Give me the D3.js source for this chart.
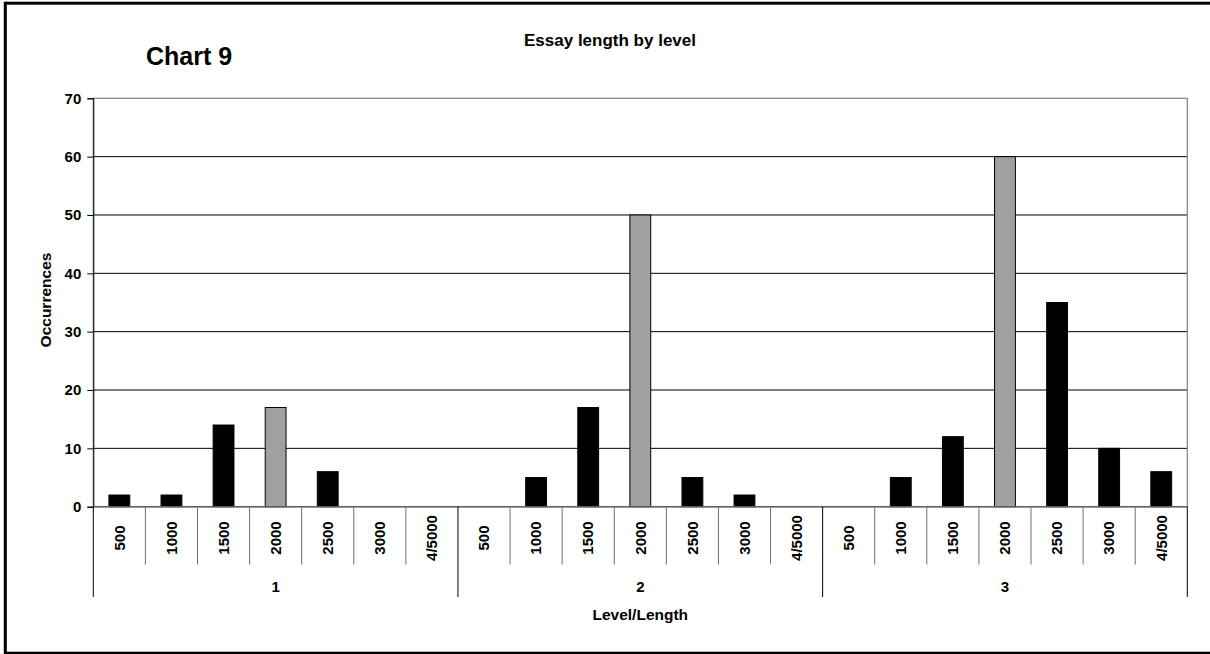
<!DOCTYPE html>
<html>
<head>
<meta charset="utf-8">
<script src="https://cdn.jsdelivr.net/npm/d3@7"></script>
<style>
  html, body { margin: 0; padding: 0; background: #fff; }
  svg { display: block; font-family: "Liberation Sans", Arial, sans-serif; }
</style>
</head>
<body>
<script>
// Essay length counts, grouped by level and then by length band
const levels = ["1", "2", "3"];
const lengths = ["500", "1000", "1500", "2000", "2500", "3000", "4/5000"];
const level1 = [2, 2, 14, 17, 6, 0, 0];
const level2 = [0, 5, 17, 50, 5, 2, 0];
const level3 = [0, 5, 12, 60, 35, 10, 6];
const yTicks = [0, 10, 20, 30, 40, 50, 60, 70];
const highlightLength = "2000";

const seriesByLevel = [level1, level2, level3];
const rows = [];
levels.forEach((lv, i) => {
  lengths.forEach((len, j) => rows.push({ level: lv, length: len, value: seriesByLevel[i][j] }));
});

const W = 1210, H = 654;
const plot = { left: 93.3, right: 1187.3, top: 98.3, bottom: 506.7 };

const svg = d3.select("body").append("svg").attr("width", W).attr("height", H);

// Outer frame (right edge runs off the page)
svg.append("rect")
  .attr("x", 5.3).attr("y", 3.2)
  .attr("width", W + 20).attr("height", 650)
  .attr("fill", "none").attr("stroke", "#000").attr("stroke-width", 3);

const xLevel = d3.scaleBand().domain(levels).range([plot.left, plot.right]).padding(0);
const xLen = d3.scaleBand().domain(lengths).range([0, xLevel.bandwidth()]).padding(0);
const y = d3.scaleLinear().domain([0, 70]).range([plot.bottom, plot.top]);

// Horizontal gridlines
svg.append("g").selectAll("line").data(yTicks.filter(t => t > 0 && t < 70)).join("line")
  .attr("x1", plot.left).attr("x2", plot.right)
  .attr("y1", d => y(d)).attr("y2", d => y(d))
  .attr("stroke", "#000").attr("stroke-width", 1);

// Plot area border
svg.append("rect")
  .attr("x", plot.left).attr("y", plot.top)
  .attr("width", plot.right - plot.left).attr("height", plot.bottom - plot.top)
  .attr("fill", "none").attr("stroke", "#808080").attr("stroke-width", 1.2);

// Y axis
const yAxis = d3.axisLeft(y).tickValues(yTicks).tickSize(6).tickPadding(6);
const gy = svg.append("g").attr("transform", `translate(${plot.left},0)`).call(yAxis);
gy.select(".domain").attr("stroke", "#000");
gy.selectAll(".tick line").attr("stroke", "#000");
gy.selectAll(".tick text")
  .attr("font-size", 15).attr("font-weight", "bold").attr("fill", "#000")
  .attr("font-family", "'Liberation Sans', Arial, sans-serif");

// Bars
const barW = xLen.bandwidth() * 0.4;
svg.append("g").selectAll("rect").data(rows.filter(d => d.value > 0)).join("rect")
  .attr("x", d => xLevel(d.level) + xLen(d.length) + (xLen.bandwidth() - barW) / 2)
  .attr("y", d => y(d.value))
  .attr("width", barW)
  .attr("height", d => y(0) - y(d.value))
  .attr("fill", d => d.length === highlightLength ? "#a0a0a0" : "#000")
  .attr("stroke", "#000").attr("stroke-width", 1);

// Category axis baseline
svg.append("line")
  .attr("x1", plot.left).attr("x2", plot.right)
  .attr("y1", y(0)).attr("y2", y(0))
  .attr("stroke", "#606060").attr("stroke-width", 1.5);

// Length separators and rotated length labels
const gx = svg.append("g");
levels.forEach(lv => {
  lengths.forEach((len, j) => {
    if (j > 0) {
      gx.append("line")
        .attr("x1", xLevel(lv) + xLen(len)).attr("x2", xLevel(lv) + xLen(len))
        .attr("y1", y(0)).attr("y2", 564.5)
        .attr("stroke", "#707070").attr("stroke-width", 1);
    }
    const cx = xLevel(lv) + xLen(len) + xLen.bandwidth() / 2;
    gx.append("text")
      .attr("transform", `translate(${cx},538) rotate(-90)`)
      .attr("text-anchor", "middle").attr("dy", "0.35em")
      .attr("font-size", 15).attr("font-weight", "bold")
      .text(len);
  });
});

// Level separators and level labels
const levelEdges = levels.map(lv => xLevel(lv)).concat([plot.right]);
gx.selectAll("line.lvl").data(levelEdges).join("line").attr("class", "lvl")
  .attr("x1", d => d).attr("x2", d => d)
  .attr("y1", y(0)).attr("y2", 597)
  .attr("stroke", "#000").attr("stroke-width", 1);

gx.selectAll("text.lvl").data(levels).join("text").attr("class", "lvl")
  .attr("x", d => xLevel(d) + xLevel.bandwidth() / 2)
  .attr("y", 592)
  .attr("text-anchor", "middle")
  .attr("font-size", 15).attr("font-weight", "bold")
  .text(d => d);

// Axis titles
svg.append("text")
  .attr("x", (plot.left + plot.right) / 2).attr("y", 619.5)
  .attr("text-anchor", "middle")
  .attr("font-size", 15.5).attr("font-weight", "bold")
  .text("Level/Length");

svg.append("text")
  .attr("transform", `translate(45.5,300) rotate(-90)`)
  .attr("text-anchor", "middle").attr("dy", "0.35em")
  .attr("font-size", 15.5).attr("font-weight", "bold")
  .text("Occurrences");

// Chart title and label
svg.append("text")
  .attr("x", 610).attr("y", 46)
  .attr("text-anchor", "middle")
  .attr("font-size", 17).attr("font-weight", "bold")
  .text("Essay length by level");

svg.append("text")
  .attr("x", 146).attr("y", 65)
  .attr("font-size", 25).attr("font-weight", "bold")
  .text("Chart 9");
</script>
</body>
</html>
